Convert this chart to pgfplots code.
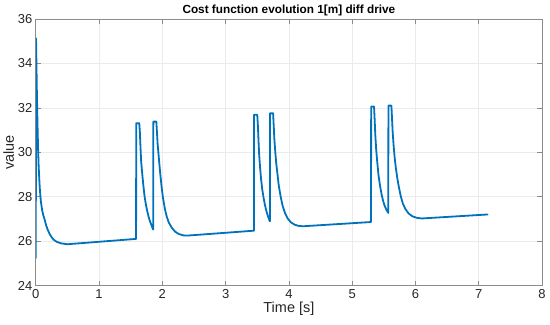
\documentclass[border=0pt]{standalone}
\usepackage{pgfplots}
\pgfplotsset{compat=1.18}
\usepackage{fontspec}
\setmainfont{Liberation Sans}
\usetikzlibrary{calc}
\definecolor{mblue}{RGB}{0,114,189}
\definecolor{axgray}{RGB}{140,140,140}
\definecolor{gridgray}{RGB}{235,235,235}
\definecolor{txtgray}{RGB}{38,38,38}
\begin{document}
\begin{tikzpicture}
\begin{axis}[
  scale only axis,
  width=507pt, height=267pt,
  xmin=0, xmax=8, ymin=24, ymax=36,
  xtick={0,1,...,8}, ytick={24,26,...,36},
  grid=major,
  major grid style={gridgray, line width=0.6pt},
  axis line style={axgray, line width=0.6pt},
  tick style={axgray, line width=0.6pt},
  tick align=inside,
  major tick length=5pt,
  xtick pos=both, ytick pos=both,
  /pgf/number format/assume math mode=true,
  ticklabel style={font=\fontsize{13}{15}\selectfont, text=txtgray},
  xlabel={Time [s]}, ylabel={value},
  label style={font=\fontsize{14.5}{16}\selectfont, text=txtgray},
  xlabel style={yshift=3pt},
  ylabel style={yshift=-3pt},
  title={Cost function evolution 1[m] diff drive},
  title style={font=\bfseries\fontsize{11.8}{13}\selectfont, yshift=-7pt},
]
\addplot[mblue, line width=1.8pt, line join=round, line cap=round] coordinates {
(0,25.24) (0.004,35.13) (0.008,34.4) (0.013,33.5) (0.018,32.6) (0.024,31.7) (0.03,30.9) (0.037,30.1) (0.045,29.4) (0.055,28.8) (0.065,28.3) (0.08,27.8) (0.1,27.4) (0.12,27.15) (0.14,26.97) (0.165,26.7) (0.19,26.5) (0.22,26.32) (0.245,26.2) (0.28,26.07) (0.33,25.97) (0.4,25.9) (0.5,25.86) (1.585,26.1)
(1.587,31.31) (1.635,31.31) (1.645,30.9) (1.655,30.2) (1.665,29.6) (1.68,29.1) (1.70,28.5) (1.72,28.0) (1.74,27.65) (1.76,27.37) (1.78,27.13) (1.80,26.93) (1.82,26.78) (1.84,26.63) (1.855,26.52)
(1.858,31.38) (1.905,31.38) (1.915,30.9) (1.925,30.4) (1.94,29.9) (1.955,29.4) (1.97,28.95) (1.99,28.4) (2.01,27.95) (2.04,27.45) (2.07,27.1) (2.1,26.85) (2.15,26.6) (2.2,26.43) (2.26,26.32) (2.33,26.26) (2.4,26.25) (3.448,26.47)
(3.45,31.69) (3.50,31.69) (3.51,31.2) (3.52,30.5) (3.53,29.9) (3.545,29.3) (3.56,28.8) (3.58,28.3) (3.60,27.95) (3.62,27.65) (3.64,27.4) (3.66,27.2) (3.68,27.03) (3.70,26.89)
(3.703,31.76) (3.75,31.76) (3.76,31.2) (3.77,30.6) (3.785,30.0) (3.80,29.5) (3.82,29.0) (3.84,28.5) (3.87,28.0) (3.90,27.6) (3.94,27.25) (3.98,27.02) (4.03,26.85) (4.09,26.74) (4.16,26.68) (4.23,26.67) (5.298,26.86)
(5.30,32.06) (5.345,32.06) (5.355,31.5) (5.365,30.8) (5.38,30.1) (5.395,29.6) (5.415,29.0) (5.44,28.5) (5.465,28.1) (5.49,27.8) (5.515,27.58) (5.54,27.42) (5.57,27.27)
(5.573,32.1) (5.62,32.1) (5.63,31.5) (5.64,30.9) (5.655,30.3) (5.67,29.8) (5.69,29.3) (5.715,28.8) (5.74,28.4) (5.77,28.0) (5.80,27.7) (5.84,27.45) (5.89,27.25) (5.95,27.12) (6.02,27.05) (6.1,27.02) (7.14,27.2)
};
\end{axis}
\path[use as bounding box] ($(current axis.south west)+(-34.5pt,-39pt)$) rectangle ($(current axis.north east)+(8pt,19pt)$);
\end{tikzpicture}
\end{document}
